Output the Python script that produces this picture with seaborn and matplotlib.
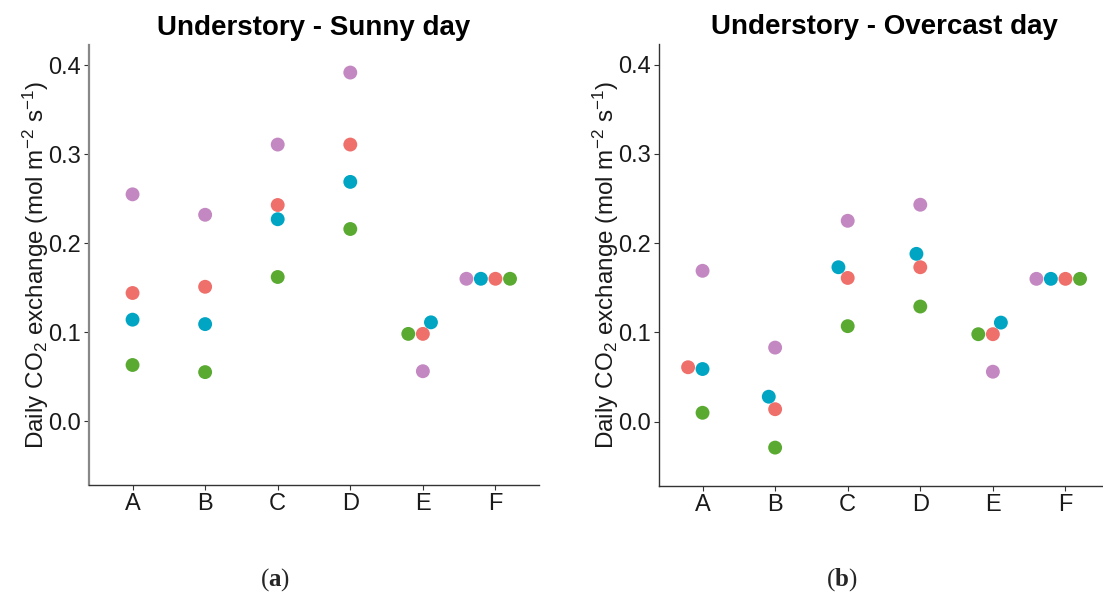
import pandas as pd
import seaborn as sns
import matplotlib.pyplot as plt

sites = ['A', 'B', 'C', 'D', 'E', 'F']
series = ['s1', 's2', 's3', 's4']
colors = ['#EF6F6A', '#00A5C3', '#5AAA32', '#C387C1']

# values per site, in series order s1 (red), s2 (cyan), s3 (green), s4 (purple)
sunny_s1 = [0.144, 0.151, 0.243, 0.311, 0.098, 0.160]
sunny_s2 = [0.114, 0.109, 0.227, 0.269, 0.111, 0.160]
sunny_s3 = [0.063, 0.055, 0.162, 0.216, 0.098, 0.160]
sunny_s4 = [0.255, 0.232, 0.311, 0.392, 0.056, 0.160]

cloudy_s1 = [0.061, 0.014, 0.161, 0.173, 0.098, 0.160]
cloudy_s2 = [0.059, 0.028, 0.173, 0.188, 0.111, 0.160]
cloudy_s3 = [0.010, -0.029, 0.107, 0.129, 0.098, 0.160]
cloudy_s4 = [0.169, 0.083, 0.225, 0.243, 0.056, 0.160]

y_ticks = [0.0, 0.1, 0.2, 0.3, 0.4]
y_ticklabels = ['0.0', '0.1', '0.2', '0.3', '0.4']


def long_table(cols):
    rows = []
    for i, site in enumerate(sites):
        for name, vals in zip(series, cols):
            rows.append({'site': site, 'series': name, 'value': vals[i]})
    return pd.DataFrame(rows)


sunny = long_table([sunny_s1, sunny_s2, sunny_s3, sunny_s4])
cloudy = long_table([cloudy_s1, cloudy_s2, cloudy_s3, cloudy_s4])

sns.set_style('white')
plt.rcParams['font.family'] = ['Liberation Sans', 'DejaVu Sans']
plt.rcParams['mathtext.fontset'] = 'custom'
plt.rcParams['mathtext.rm'] = 'Liberation Sans'
plt.rcParams['mathtext.it'] = 'Liberation Sans:italic'
plt.rcParams['mathtext.bf'] = 'Liberation Serif:bold'

fig = plt.figure(figsize=(11.03, 5.95), dpi=100)
W, H = 1103, 595
ax1 = fig.add_axes([89 / W, 1 - 485 / H, 450 / W, 440 / H])
ax2 = fig.add_axes([659 / W, 1 - 486 / H, 450 / W, 442 / H])

ylab = r'Daily CO$_2$ exchange (mol m$^{-2}$ s$^{-1}$)'

for ax, df, title in [(ax1, sunny, 'Understory - Sunny day'),
                      (ax2, cloudy, 'Understory - Overcast day')]:
    ax.set_xlim(-0.6, 5.6)
    ax.set_ylim(-0.072, 0.423)
    sns.swarmplot(data=df, x='site', y='value', hue='series', order=sites,
                  hue_order=series, palette=colors, size=10, linewidth=0,
                  legend=False, ax=ax)
    ax.set_xlim(-0.6, 5.6)
    ax.set_ylim(-0.072, 0.423)
    ax.set_yticks(y_ticks)
    ax.set_yticklabels(y_ticklabels)
    ax.set_xlabel('')
    ax.set_ylabel(ylab, fontsize=17.5, labelpad=-2, color='#1a1a1a')
    ax.set_title(title, fontsize=20, fontweight='bold', pad=7, color='black')
    ax.tick_params(axis='both', labelsize=17, length=3.5, width=0.8,
                   color='#333333', labelcolor='#1a1a1a', pad=2, direction='out',
                   bottom=True, left=True)
    for s in ['top', 'right']:
        ax.spines[s].set_visible(False)
    ax.spines['bottom'].set_color('#333333')
    ax.spines['bottom'].set_linewidth(1.0)
    ax.spines['left'].set_color('#333333')
    ax.spines['left'].set_linewidth(1.0)

ax1.spines['left'].set_color('#888888')
ax1.spines['left'].set_linewidth(1.6)

fig.text(275 / W, 1 - 580 / H, r'($\mathbf{a}$)', ha='center', va='center',
         fontsize=18, family='Liberation Serif')
fig.text(842 / W, 1 - 580 / H, r'($\mathbf{b}$)', ha='center', va='center',
         fontsize=18, family='Liberation Serif')

fig.savefig('out.png', dpi=100)
